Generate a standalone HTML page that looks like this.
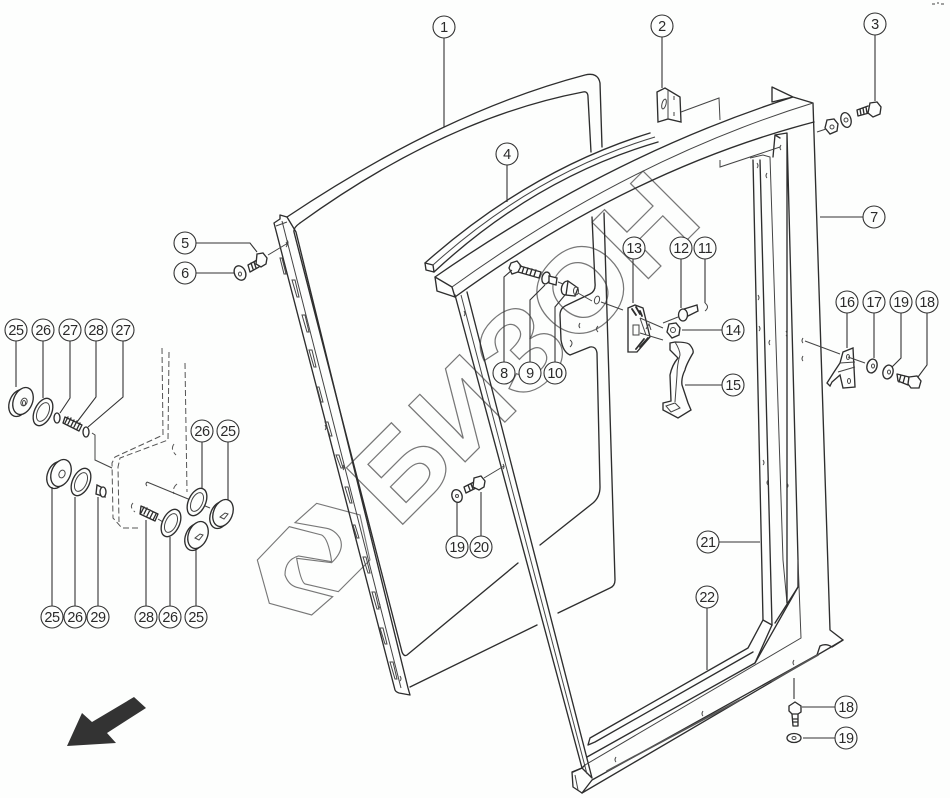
<!DOCTYPE html>
<html><head><meta charset="utf-8"><style>
html,body{margin:0;padding:0;background:#fdfefd}
svg{display:block}
.l{fill:none;stroke:#2e2e2e;stroke-width:1.35;stroke-linejoin:round;stroke-linecap:round}
.t{fill:none;stroke:#444;stroke-width:1}
.d{fill:none;stroke:#555;stroke-width:1;stroke-dasharray:6 3}
.w{fill:#fdfefd;stroke:#2e2e2e;stroke-width:1.35}
.f{fill:#333;stroke:none}
.c circle{fill:#fdfefd;stroke:#333;stroke-width:1.1}
.c text{font:14.5px "Liberation Sans",sans-serif;fill:#2a2a2a;text-anchor:middle;letter-spacing:-.4px}
.m{fill:none;stroke:#777;stroke-width:1}
.k{fill:none;stroke:#777;stroke-width:1.2;font:bold 116px "Liberation Sans",sans-serif}
</style></head><body>
<svg width="950" height="798" viewBox="0 0 950 798" xmlns="http://www.w3.org/2000/svg">
<rect width="950" height="798" fill="#fdfefd"/>

<!-- watermark -->
<text class="k" transform="translate(397,530) rotate(-45)" textLength="436" lengthAdjust="spacingAndGlyphs">БИЗОН</text>
<g transform="translate(250,380) scale(.3333)" class="m" style="stroke-width:3.400">
<path d="M135 428L200 370L330 405L360 540L265 635L165 612Q152 605 140 535L245 548Q285 510 270 475Q255 450 230 445Z"/>
<path d="M248 650L185 705L58 670L22 540L118 440L215 465Q235 475 245 545L145 528Q105 540 105 585Q115 615 140 622Z"/>
</g>

<!-- window (1) -->
<path class="l" d="M287 217Q444 112 585 75Q598 72 600 83L602 147"/>
<path class="l" d="M300 223Q444.500 118.500 583 92Q588 91 588 97L591 152"/>
<path class="l" d="M300 223Q293 228 294 232L402 652Q404 657 407 655L518 563"/>
<path class="l" d="M540 545L593 503Q600 497 600 487L597 353Q596 346 590 347L570 355Q563 352 561 340L560 315Q560 308 567 305L590 294Q596 291 595 283L592 217"/>
<path class="l" d="M604 213L615 580Q615 586 610 588L558 613M537 625L410 687"/>
<!-- left rail -->
<path class="l" d="M274 223L280 219L280 215L287 217L296 232L408 688L410 695L399 693Q396 692 395 690L274 223"/>
<path class="t" d="M282 221L401 688M276 226L287 222"/>
<path class="t" d="M280 258l4 16l2 0l-4 -16zM292 280l5 17l2 0l-4 -17zM302 315l5 17l2 0l-4 -17zM309 350l5 17l2 0l-4 -17zM317 387l4 15l2 0l-4 -15zM325 422l5 14l2 0l-4 -14zM336 455l5 13l2 0l-4 -13zM345 487l5 16l2 0l-4 -16zM353 525l4 13l2 0l-4 -13zM363 557l5 16l2 0l-4 -16zM372 592l5 17l2 0l-4 -17zM380 628l5 16l2 0l-4 -16zM390 662l5 17l2 0l-4 -17z"/>
<path class="t" d="M286 242q2 3 0 5M325 425q2 3 0 5M343 465q2 3 0 5M379 603q2 3 0 5M400 676q2 3 0 5"/>

<!-- strip (4) -->
<path class="l" d="M425 263L426 270L434 272L433 265L425 263"/>
<path class="l" d="M425 263Q530 170 650 133"/>
<path class="t" d="M433 265Q535 173 655 137"/>
<path class="l" d="M434 272Q535 178 658 142"/>

<!-- frame (7) -->
<path class="l" d="M435 277L452 287L455 297L437 291Z"/>
<path class="l" d="M435 277Q610 155.500 793 97L772 102L772 87L793 97L813 103L830 630L843 640L832 647Q826 643 820 646L817 655L592 780L582 793L573 787L572 772L582 768"/>
<path class="t" d="M452 287Q628 160 813 103"/>
<path class="l" d="M455 297Q630 170 814 122"/>
<path class="l" d="M455 295L582 768M467 292L592 778M592 778L582 768"/>
<path class="t" d="M461 295L587 774"/>
<path class="l" d="M582 793L843 640M573 772L582 768L585 765"/>
<path class="t" d="M575 775L578 790"/>

<!-- inner channels (21/22) -->
<path class="l" d="M753 160L763 620L748 648L590 738L588 745L595 742L753 652"/>
<path class="l" d="M760 160L772 625L755 663L587 757"/>
<path class="t" d="M750 158L763 155L770 157L783 560L787 603"/>
<path class="l" d="M775 135L787 133L787 603M787 133L798 560L798 587L775 623M763 620L772 625"/>
<path class="t" d="M798 560L801 638L585 765"/>
<path class="l" d="M798 587L755 663"/>
<path class="l" d="M775 135L773 157M775 135L780 138"/>
<path class="l" style="stroke-width:1.700;stroke:#555" d="M772 681L818 655M607 771L740 700"/>

<!-- holes -->
<path class="t" d="M464 311q2 3 0 5M758 295q2 3 0 5M759 326q2 3 0 5M770 340q-2 3 0 5M786 331q2 3 0 5M757 163q2 3 0 5M767 173q-2 3 0 5M781 145q-2 3 0 5M803 338q-2 3 0 5M803 356q-2 3 0 5M763 460q2 3 0 5M768 480q-2 3 0 5M787 483q2 3 0 5M616 757q-2 3 0 5M703 711q-2 3 0 5M794 660q-2 3 0 5M503 464q2 3 0 5"/>

<!-- part 2 -->
<path class="w" d="M657 92L665 88L680 97L681 122L668 119L658 122Z"/>
<path class="t" d="M668 90L668 119"/>
<ellipse class="t" cx="664" cy="104" rx="2" ry="5" transform="rotate(15 664 104)"/>
<path class="t" d="M674 96v4M674 112v4"/>
<path class="t" d="M681 112L719 98L720 120M720 160L720 167L780 147"/>

<!-- part 3 group -->
<path class="l" d="M868 106L857 110L858 116L869 113M860 109l1 6M863 108l1 6M866 107l1 6"/>
<path class="w" d="M870 103L877 102L881 107L880 114L873 117L868 113Z"/>
<ellipse class="w" cx="846" cy="120" rx="5" ry="7.500" transform="rotate(-15 846 120)"/>
<circle class="t" cx="846" cy="120" r="2"/>
<path class="w" d="M827 120L834 119L838 124L837 131L830 134L825 128Z"/>
<circle class="t" cx="832" cy="127" r="2"/>
<path class="t" d="M826 129L817 132"/>

<!-- part 5 6 -->
<path class="l" d="M257 260L248 265L250 272L259 267M251 263l2 6M254 262l2 6"/>
<path class="w" d="M257 254L263 253L267 258L266 264L261 267L256 264Z"/>
<ellipse class="w" cx="240" cy="273" rx="5.500" ry="7.500" transform="rotate(-25 240 273)"/>
<ellipse class="t" cx="240" cy="274" rx="1.500" ry="2"/>
<path class="t" d="M268 255L288 243M287 240q2 3 0 5"/>

<!-- 8 9 10 -->
<path class="w" d="M511 263L517 261L521 266L518 272L512 274L509 268Z"/>
<path class="l" d="M520 266L541 272L539 278L518 272M524 267l-2 6M528 268l-2 6M532 269l-2 6M536 270l-2 6"/>
<ellipse class="w" cx="546" cy="278" rx="4" ry="6" transform="rotate(15 546 278)"/>
<path class="w" d="M549 276L557 278L556 285L549 283Z"/>
<ellipse class="w" cx="566" cy="288" rx="4.500" ry="7" transform="rotate(15 566 288)"/>
<path class="w" d="M568 281L578 288L575 296L566 295Z"/>
<ellipse class="t" cx="576" cy="291" rx="2.500" ry="4"/>
<path class="t" d="M558 282L563 284M578 293L592 301M601 302L623 310"/>
<ellipse class="t" cx="597" cy="300" rx="2.500" ry="4" transform="rotate(15 597 300)"/>
<path class="t" d="M580 323q-2 3 0 5M598 326q-3 3 0 6M570 340q4 3 0 7"/>

<!-- 13 -->
<path class="w" d="M628 308L635 305L643 308L650 337L637 352L628 352Z"/>
<path class="l" style="stroke-width:1.800" d="M632 309l4 6M636 307l4 7M640 311l2 5M640 347l8 -9M636 349l8 -10"/>
<path class="t" d="M633 325h6v10h-6zM640 318L663 328M640 333L663 340M640 318L646 335M663 323L678 317"/>
<path class="t" d="M646 329l3 -5l2 6"/>

<!-- 12 11 14 -->
<path class="w" d="M684 309L697 305L698 311L686 317"/>
<ellipse class="w" cx="683" cy="315" rx="4.500" ry="6"/>
<path class="t" d="M705 303q5 4 0 8"/>
<path class="w" d="M669 324L676 323L680 328L679 335L672 338L667 332Z"/>
<circle class="t" cx="673" cy="330" r="2.500"/>

<!-- 15 -->
<path class="w" d="M670 343L675 342Q688 342 690 345Q694 350 693 353Q686 365 685 370Q681 378 682 385L688 403L691 410L678 418L663 410L663 403L671 401L670 375Q672 365 678 358L670 350Z"/>
<path class="t" d="M675 342Q680 350 680 355Q677 365 677 375L675 402M666 406L675 403L680 408L671 412Z"/>

<!-- 16 17 19 18 -->
<path class="w" d="M840 363L843 352L853 348L855 387L843 388L840 375L832 382L830 386L827 383L834 372Z"/>
<path class="t" d="M840 363L855 362M838 372L855 367"/>
<ellipse class="t" cx="848" cy="357" rx="1.500" ry="2.500"/>
<ellipse class="t" cx="849" cy="381" rx="1.500" ry="2.500"/>
<path class="t" d="M805 341L840 354M848 357L865 363"/>
<ellipse class="w" cx="872" cy="366" rx="5" ry="7" transform="rotate(15 872 366)"/>
<ellipse class="t" cx="873" cy="366" rx="1.500" ry="2"/>
<ellipse class="w" cx="888" cy="372" rx="5" ry="7" transform="rotate(15 888 372)"/>
<ellipse class="t" cx="889" cy="372" rx="1.500" ry="2"/>
<path class="l" d="M897 374L909 377L908 385L898 381ZM901 375l-2 7M905 376l-2 7"/>
<path class="w" d="M909 377L917 376L921 381L919 388L911 388L908 384Z"/>

<!-- 19 20 -->
<ellipse class="w" cx="457" cy="496" rx="5" ry="6.500" transform="rotate(-20 457 496)"/>
<circle class="t" cx="457" cy="496" r="1.500"/>
<path class="l" d="M474 482L464 487L466 493L476 488M468 485l2 5M471 484l2 5"/>
<path class="w" d="M474 478L481 476L485 481L484 487L479 490L473 487Z"/>
<path class="t" d="M484 478L504 466"/>

<!-- 18 19 bottom -->
<path class="w" d="M789 706L795 702L801 706L801 712L798 714L792 714L789 711Z"/>
<path class="l" d="M792 714L793 726L798 726L798 714M793 719h5M793 722h5"/>
<ellipse class="w" cx="794" cy="738" rx="7" ry="4.500"/>
<ellipse class="t" cx="794" cy="738" rx="2" ry="1.500"/>

<!-- left parts -->
<g>
<ellipse class="w" cx="19" cy="403" rx="9.500" ry="14" transform="rotate(22 19 403)"/>
<ellipse class="w" cx="23" cy="401" rx="9.500" ry="14" transform="rotate(22 23 401)"/>
<ellipse class="t" cx="24" cy="402" rx="3" ry="4" transform="rotate(22 24 402)"/>
<ellipse class="t" cx="24" cy="403" rx="1.500" ry="2.500"/>
<ellipse class="w" cx="43" cy="412" rx="8.500" ry="14.500" transform="rotate(25 43 412)"/>
<ellipse class="t" cx="43" cy="412" rx="5.500" ry="10" transform="rotate(25 43 412)"/>
<ellipse class="l" cx="57" cy="418" rx="3" ry="5"/>
<path class="l" d="M65 417L82 425L79 431L63 423Z M68 417l-3 6M71 418l-3 6M74 420l-3 6M77 421l-3 6M80 423l-3 6"/>
<ellipse class="l" cx="86" cy="432" rx="3" ry="5"/>
<path class="t" d="M92 433L95 435L95 460L112 468"/>

<ellipse class="w" cx="57" cy="475" rx="9.500" ry="14" transform="rotate(22 57 475)"/>
<ellipse class="w" cx="61" cy="473" rx="9.500" ry="14" transform="rotate(22 61 473)"/>
<ellipse class="t" cx="62" cy="474" rx="3" ry="4" transform="rotate(22 62 474)"/>
<ellipse class="w" cx="81" cy="482" rx="8.500" ry="14.500" transform="rotate(25 81 482)"/>
<ellipse class="t" cx="81" cy="482" rx="5.500" ry="10" transform="rotate(25 81 482)"/>
<path class="w" d="M97 485L105 489L105 497L96 494Z"/>
<ellipse class="w" cx="103" cy="492" rx="3" ry="5"/>

<path class="d" d="M162 348L163 435L115 457L112 463L113 518L122 528L138 528"/>
<path class="d" d="M169 352L168 440L120 458L118 467L119 522"/>
<path class="d" d="M185 363L187 492"/>
<path class="d" d="M174 444q-4 5 2 11M177 484q-5 4 -3 10M133 503q-4 4 2 9"/>
<path class="t" d="M147 482L210 508"/>
<path class="t" d="M147 482q-2 2 0 4"/>
<path class="l" d="M141 506L158 514L155 521L140 514ZM144 507l-3 6M147 508l-3 6M150 510l-3 6M153 512l-3 6M156 514l-3 6"/>
<path class="t" d="M158 519L163 522"/>

<ellipse class="w" cx="197" cy="502" rx="8.500" ry="14.500" transform="rotate(25 197 502)"/>
<ellipse class="t" cx="197" cy="502" rx="5.500" ry="10" transform="rotate(25 197 502)"/>
<ellipse class="w" cx="171" cy="523" rx="8.500" ry="14.500" transform="rotate(25 171 523)"/>
<ellipse class="t" cx="171" cy="523" rx="5.500" ry="10" transform="rotate(25 171 523)"/>
<ellipse class="w" cx="220" cy="515" rx="9.500" ry="14" transform="rotate(22 220 515)"/>
<ellipse class="w" cx="223" cy="513" rx="9.500" ry="14" transform="rotate(22 223 513)"/>
<path class="t" d="M220 517l5 -4l3 1l-4 5z"/>
<ellipse class="w" cx="195" cy="537" rx="9.500" ry="14" transform="rotate(22 195 537)"/>
<ellipse class="w" cx="198" cy="535" rx="9.500" ry="14" transform="rotate(22 198 535)"/>
<path class="t" d="M195 538l5 -4l3 1l-4 5z"/>
</g>

<!-- arrow -->
<path class="f" d="M67 746L82 713L92 722L134 697L146 708L107 733L116 743Z"/>

<!-- tiny marks -->
<path class="t" d="M932 4h3M937 3h2M941 4h3"/>

<!-- leaders -->
<path class="t" style="stroke:#333;stroke-width:1.100" d="M444 38V127M662 37V88M875 35V101M507 165V202M196 243H250L257 252M196 273H234M863 217H820M504 362V277L512 270M530 362V300L545 285M555 362V307L565 295M705 259V303M681 259V308M633 258V303M722 330H682M722 385H685M847 313V348M874 313V358M901 313V358L892 367M927 313V365L918 377M16 341V387M43 341V398M70 341V398L60 413M96 341V397L77 422M123 341V397L88 427M202 442V488M228 442V500M52 606V487M75 606V497M98 606V497M146 606V520M170 606V537M196 606V550M457 536V503M481 536V492M719 542H760M707 608V670M802 707H835M803 738H835M794 678V699"/>

<!-- callouts -->
<g class="c">
<circle cx="444" cy="27" r="11"/><text x="444" y="32">1</text>
<circle cx="662" cy="26" r="11"/><text x="662" y="31">2</text>
<circle cx="875" cy="24" r="11"/><text x="875" y="29">3</text>
<circle cx="507" cy="154" r="11"/><text x="507" y="159">4</text>
<circle cx="185" cy="243" r="11"/><text x="185" y="248">5</text>
<circle cx="185" cy="273" r="11"/><text x="185" y="278">6</text>
<circle cx="874" cy="217" r="11"/><text x="874" y="222">7</text>
<circle cx="504" cy="373" r="11"/><text x="504" y="378">8</text>
<circle cx="530" cy="373" r="11"/><text x="530" y="378">9</text>
<circle cx="555" cy="373" r="11"/><text x="555" y="378">10</text>
<circle cx="705" cy="248" r="11"/><text x="705" y="253">11</text>
<circle cx="681" cy="248" r="11"/><text x="681" y="253">12</text>
<circle cx="634" cy="248" r="11"/><text x="634" y="253">13</text>
<circle cx="733" cy="330" r="11"/><text x="733" y="335">14</text>
<circle cx="733" cy="385" r="11"/><text x="733" y="390">15</text>
<circle cx="847" cy="302" r="11"/><text x="847" y="307">16</text>
<circle cx="874" cy="302" r="11"/><text x="874" y="307">17</text>
<circle cx="901" cy="302" r="11"/><text x="901" y="307">19</text>
<circle cx="927" cy="302" r="11"/><text x="927" y="307">18</text>
<circle cx="16" cy="330" r="11"/><text x="16" y="335">25</text>
<circle cx="43" cy="330" r="11"/><text x="43" y="335">26</text>
<circle cx="70" cy="330" r="11"/><text x="70" y="335">27</text>
<circle cx="96" cy="330" r="11"/><text x="96" y="335">28</text>
<circle cx="123" cy="330" r="11"/><text x="123" y="335">27</text>
<circle cx="202" cy="431" r="11"/><text x="202" y="436">26</text>
<circle cx="228" cy="431" r="11"/><text x="228" y="436">25</text>
<circle cx="52" cy="617" r="11"/><text x="52" y="622">25</text>
<circle cx="75" cy="617" r="11"/><text x="75" y="622">26</text>
<circle cx="98" cy="617" r="11"/><text x="98" y="622">29</text>
<circle cx="146" cy="617" r="11"/><text x="146" y="622">28</text>
<circle cx="170" cy="617" r="11"/><text x="170" y="622">26</text>
<circle cx="196" cy="617" r="11"/><text x="196" y="622">25</text>
<circle cx="457" cy="547" r="11"/><text x="457" y="552">19</text>
<circle cx="481" cy="547" r="11"/><text x="481" y="552">20</text>
<circle cx="708" cy="542" r="11"/><text x="708" y="547">21</text>
<circle cx="707" cy="597" r="11"/><text x="707" y="602">22</text>
<circle cx="846" cy="707" r="11"/><text x="846" y="712">18</text>
<circle cx="846" cy="738" r="11"/><text x="846" y="743">19</text>
</g>
</svg>
</body></html>
